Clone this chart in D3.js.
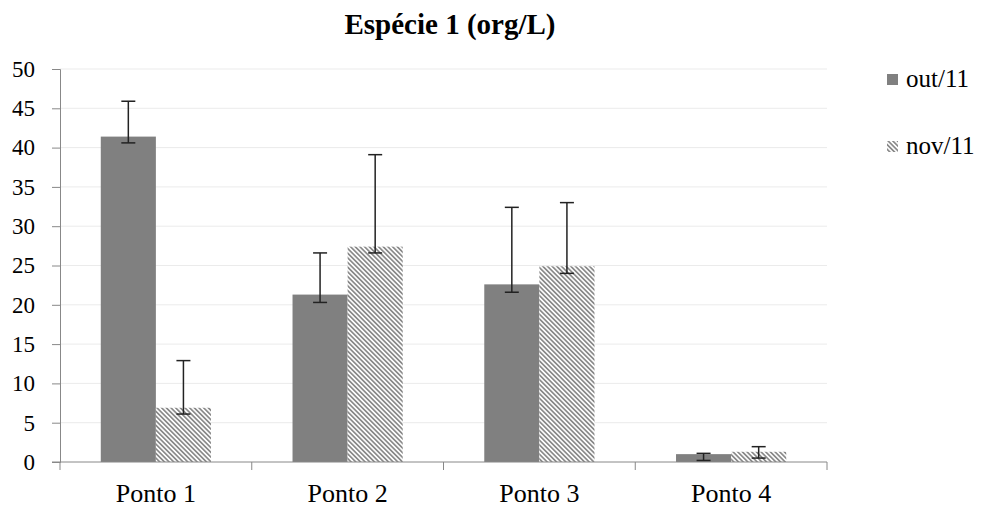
<!DOCTYPE html>
<html><head><meta charset="utf-8">
<script src="https://cdn.jsdelivr.net/npm/d3@7"></script>
<style>body{margin:0;background:#fff}svg{display:block}</style>
</head><body><svg id="c" width="983" height="507"></svg>
<script>
const categories = ["Ponto 1","Ponto 2","Ponto 3","Ponto 4"];
const seriesNames = ["out/11","nov/11"];
const outValues = [41.4, 21.3, 22.6, 1.0];
const outUpper  = [45.9, 26.6, 32.4, 1.1];
const outLower  = [40.6, 20.3, 21.6, 0.2];
const novValues = [6.9, 27.4, 24.9, 1.3];
const novUpper  = [12.9, 39.1, 33.0, 1.95];
const novLower  = [6.1, 26.6, 24.0, 0.5];
const yTicks = [0,5,10,15,20,25,30,35,40,45,50];
const title = "Espécie 1 (org/L)";

const FONT = "'Liberation Serif'";
const svg = d3.select("#c");
const L = 60, R = 827, T = 69, B = 462;
const x = d3.scaleBand().domain(categories).range([L, R]).padding(0);
const y = d3.scaleLinear().domain([0, 50]).range([B, T]);
const inner = d3.scaleBand().domain(seriesNames).range([0, x.bandwidth()]).paddingInner(0).paddingOuter(0.74);

const defs = svg.append("defs");
const pat = defs.append("pattern").attr("id","hatch").attr("patternUnits","userSpaceOnUse")
  .attr("width",3.3).attr("height",3.3).attr("patternTransform","rotate(-45)");
pat.append("rect").attr("width",3.3).attr("height",3.3).attr("fill","#fff");
pat.append("rect").attr("width",1.7).attr("height",3.3).attr("fill","#8a8a8a");

svg.append("g").selectAll("line").data(yTicks.filter(d=>d>0)).join("line")
  .attr("x1",L).attr("x2",R).attr("y1",d=>y(d)).attr("y2",d=>y(d))
  .attr("stroke","#ebebeb").attr("stroke-width",1);

const data = [];
categories.forEach((c,i)=>{
  data.push({c, s:seriesNames[0], v:outValues[i], hi:outUpper[i], lo:outLower[i]});
  data.push({c, s:seriesNames[1], v:novValues[i], hi:novUpper[i], lo:novLower[i]});
});

svg.append("g").selectAll("rect").data(data).join("rect")
  .attr("x",d=>x(d.c)+inner(d.s)).attr("width",inner.bandwidth())
  .attr("y",d=>y(d.v)).attr("height",d=>y(0)-y(d.v))
  .attr("fill",d=>d.s===seriesNames[0]?"#808080":"url(#hatch)");

const yAxis = svg.append("g").attr("transform",`translate(${L},0)`)
  .call(d3.axisLeft(y).tickValues(yTicks).tickSize(8).tickPadding(17));
yAxis.attr("font-family",null).attr("font-size",null);
yAxis.select(".domain").attr("stroke","#888");
yAxis.selectAll(".tick line").attr("stroke","#888");
yAxis.selectAll(".tick text").style("font-family",FONT).style("font-size","23px").attr("fill","#000");

const xAxis = svg.append("g").attr("transform",`translate(0,${B})`);
xAxis.append("line").attr("x1",L-8).attr("x2",R).attr("y1",0).attr("y2",0).attr("stroke","#888");
const bounds = categories.map(c=>x(c)).concat([x(categories[categories.length-1])+x.bandwidth()]);
xAxis.selectAll("line.t").data(bounds).join("line").attr("class","t")
  .attr("x1",d=>d).attr("x2",d=>d).attr("y1",0).attr("y2",8).attr("stroke","#888");
xAxis.selectAll("text").data(categories).join("text")
  .attr("x",d=>x(d)+x.bandwidth()/2).attr("y",40).attr("text-anchor","middle")
  .style("font-family",FONT).style("font-size","26px").attr("fill","#000").text(d=>d);

const eb = svg.append("g").attr("stroke","#222").attr("stroke-width",1.5);
data.forEach(d=>{
  const cx = x(d.c)+inner(d.s)+inner.bandwidth()/2;
  eb.append("line").attr("x1",cx).attr("x2",cx).attr("y1",y(d.hi)).attr("y2",y(d.lo));
  eb.append("line").attr("x1",cx-7).attr("x2",cx+7).attr("y1",y(d.hi)).attr("y2",y(d.hi));
  eb.append("line").attr("x1",cx-7).attr("x2",cx+7).attr("y1",y(d.lo)).attr("y2",y(d.lo));
});

svg.append("text").attr("x",450).attr("y",34).attr("text-anchor","middle")
  .style("font-family",FONT).style("font-size","29px").style("font-weight","bold").attr("fill","#000").text(title);

const lg = svg.append("g").selectAll("g").data(seriesNames).join("g")
  .attr("transform",(d,i)=>`translate(887,${74+i*67})`);
lg.append("rect").attr("width",11).attr("height",11)
  .attr("fill",(d,i)=>i===0?"#808080":"url(#hatch)");
lg.append("text").attr("x",19).attr("y",13).style("font-family",FONT).style("font-size","25px").attr("fill","#000").text(d=>d);
</script></body></html>
